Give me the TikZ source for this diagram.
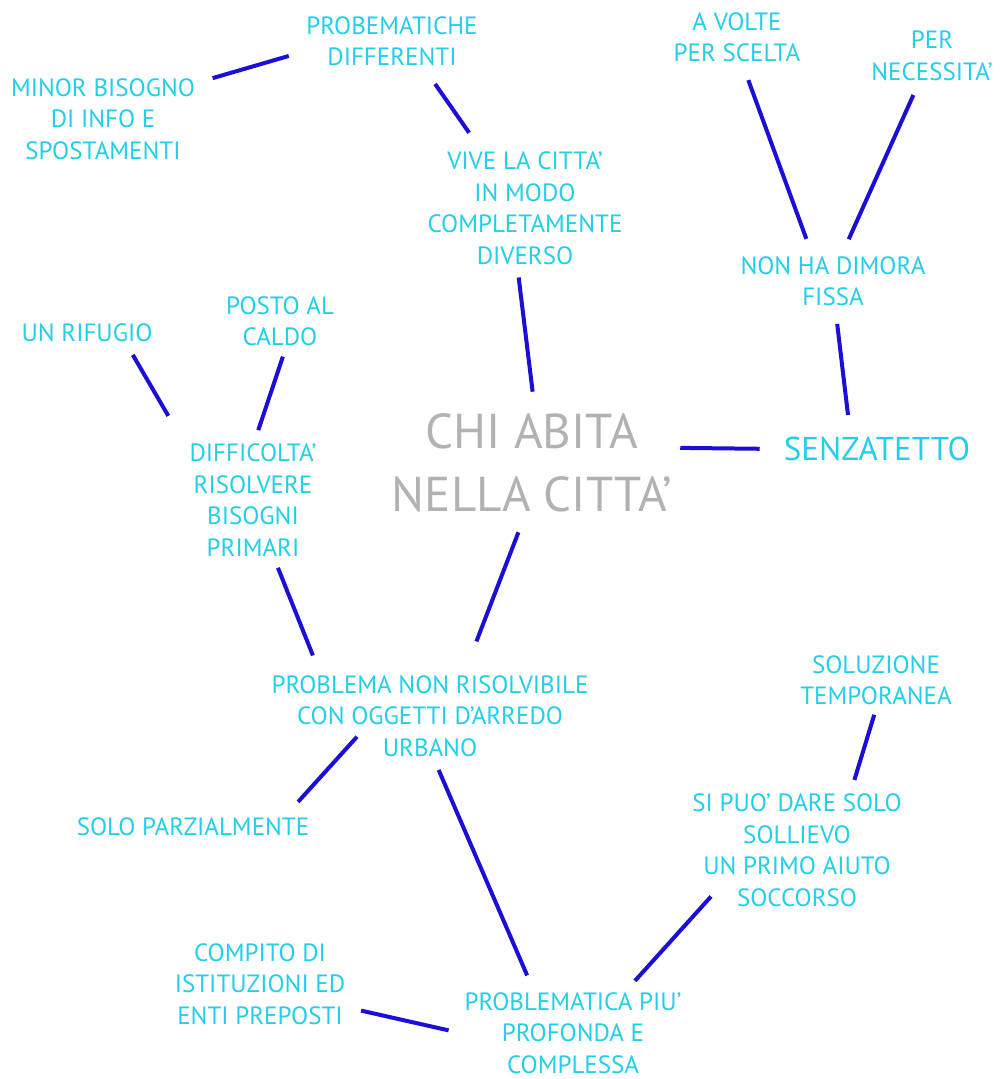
\documentclass[tikz,border=0pt]{standalone}
\usepackage{fontspec}
\setmainfont{PT Sans}
\definecolor{azzurro}{RGB}{34,206,232}
\definecolor{blu}{RGB}{28,14,214}
\definecolor{grigio}{RGB}{178,178,178}
\tikzset{
  voce/.style={text=azzurro, align=center, inner sep=4pt,
    font=\fontsize{25}{31.5}\selectfont},
  tema/.style={text=grigio, align=center, inner sep=4pt,
    font=\fontsize{49}{63}\selectfont},
  senza/.style={text=azzurro, inner sep=4pt, font=\fontsize{33}{40}\selectfont},
  link/.style={draw=blu, line width=4pt, shorten <=14pt, shorten >=14pt}
}
\begin{document}
\begin{tikzpicture}[x=1pt,y=-1pt]
\useasboundingbox (0,0) rectangle (1000,1079);
% centro
\node[tema] (chi) at (532,463) {CHI ABITA\\NELLA CITTA'};
\node[senza] (senzatetto) at (877,449) {SENZATETTO};
% in alto
\node[voce] (minor) at (103,119) {MINOR BISOGNO\\DI INFO E\\SPOSTAMENTI};
\node[voce] (probdiff) at (392,41) {PROBEMATICHE\\DIFFERENTI};
\node[voce] (vive) at (525,208) {VIVE LA CITTA'\\IN MODO\\COMPLETAMENTE\\DIVERSO};
\node[voce] (avolte) at (737,37) {A VOLTE\\PER SCELTA};
\node[voce] (necess) at (932,56) {PER\\NECESSITA'};
\node[voce] (dimora) at (833,281) {NON HA DIMORA\\FISSA};
% a sinistra
\node[voce] (rifugio) at (87,333) {UN RIFUGIO};
\node[voce] (posto) at (280,321) {POSTO AL\\CALDO};
\node[voce] (diffic) at (253,500) {DIFFICOLTA'\\RISOLVERE\\BISOGNI\\PRIMARI};
% in basso
\node[voce] (probnon) at (430,716) {PROBLEMA NON RISOLVIBILE\\CON OGGETTI D'ARREDO\\URBANO};
\node[voce] (parz) at (193,827) {SOLO PARZIALMENTE};
\node[voce] (soluz) at (876,680) {SOLUZIONE\\TEMPORANEA};
\node[voce] (sollievo) at (797,850) {SI PUO' DARE SOLO\\SOLLIEVO\\UN PRIMO AIUTO\\SOCCORSO};
\node[voce] (compito) at (260,984) {COMPITO DI\\ISTITUZIONI ED\\ENTI PREPOSTI};
\node[voce] (profonda) at (573,1033) {PROBLEMATICA PIU'\\PROFONDA E\\COMPLESSA};

% collegamenti
\draw[link] (minor.21) -- (probdiff.187);
\draw[link, shorten <=17pt, shorten >=18pt] (probdiff.-41) -- (vive.127);
\draw[link, shorten <=9pt, shorten >=18pt] (vive.-97) -- (chi.87);
\draw[link, shorten <=15pt] (avolte.-78) -- (dimora.127);
\draw[link, shorten <=11pt] (necess.-116) -- (dimora.71);
\draw[link, shorten >=18pt] (dimora.-85) -- (senzatetto.149);
\draw[link, shorten <=4pt, shorten >=20pt] (chi.6) -- (senzatetto.west);
\draw[link, shorten <=10pt, shorten >=34pt] (rifugio.-18) -- (diffic.141);
\draw[link, shorten <=7pt, shorten >=10pt] (posto.-80) -- (diffic.88);
\draw[link, shorten <=8pt, shorten >=17pt] (diffic.-70) -- (probnon.158);
\draw[link, shorten <=17pt, shorten >=32pt] (chi.-98) -- (probnon.52);
\draw[link, shorten <=0pt, shorten >=16pt] ([shift={(-73,-24)}]probnon.south) -- (parz.8.5);
\draw[link, shorten <=10pt] (probnon.-84) -- (profonda.132);
\draw[link, shorten <=6pt, shorten >=10pt] (soluz.south) -- (sollievo.48);
\draw[link, shorten <=0pt, shorten >=10pt] ([shift={(-86,-14)}]sollievo.south) -- (profonda.39);
\draw[link, shorten <=12pt, shorten >=12pt] (compito.-15) -- (profonda.west);
\end{tikzpicture}
\end{document}
